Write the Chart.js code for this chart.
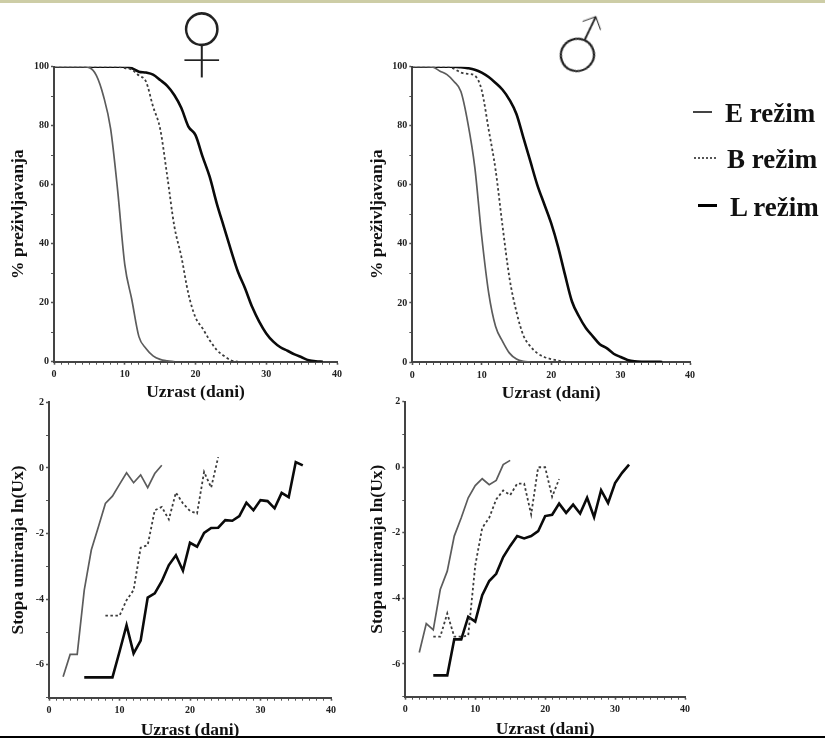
<!DOCTYPE html>
<html lang="sr">
<head>
    <meta charset="UTF-8">
    <title>Preživljavanje i stopa umiranja</title>
    <script src="https://cdn.jsdelivr.net/npm/chart.js"></script>
    <style>
        html, body { margin: 0; padding: 0; background: #fff; }
        #page { position: relative; width: 825px; height: 738px; overflow: hidden; font-family: "Liberation Serif", serif; filter: blur(0.45px); }
        #topband { position: absolute; left: 0; top: 0; width: 825px; height: 3px; background: #cdcda6; }
        #bottomline { position: absolute; left: 0; top: 736px; width: 825px; height: 2px; background: #000; }
        canvas { position: absolute; left: 0; top: 0; }
        .symbol { position: absolute; line-height: 1; color: #222; }
        .leg { position: absolute; font-weight: bold; font-size: 27px; line-height: 30px; color: #111; white-space: nowrap; }
        .sample { position: absolute; }
    </style>
</head>
<body>
<div id="page">
    <div id="topband"></div>
    <div id="bottomline"></div>
    <canvas id="survF" width="825" height="760"></canvas>
    <canvas id="survM" width="825" height="760"></canvas>
    <canvas id="mortF" width="825" height="760"></canvas>
    <canvas id="mortM" width="825" height="760"></canvas>

    <div class="symbol" style="left:153px;top:-26px;font-family:'Liberation Sans',sans-serif;font-size:130px;-webkit-text-stroke:2.6px #fff">♀</div>
    <div class="symbol" style="left:552px;top:14px;font-family:'DejaVu Sans',sans-serif;font-size:70px;-webkit-text-stroke:3.8px #fff;transform-origin:0.36em 0.58em;transform:rotate(-20deg)">♂</div>

    <div class="sample" style="left:693px;top:111px;width:19px;height:2px;background:#444"></div>
    <div class="leg" style="left:725px;top:98px">E režim</div>
    <div class="sample" style="left:694px;top:157px;width:22px;border-top:2px dotted #555"></div>
    <div class="leg" style="left:727px;top:144px">B režim</div>
    <div class="sample" style="left:698px;top:204px;width:19px;height:3px;background:#000"></div>
    <div class="leg" style="left:730px;top:192px">L režim</div>
</div>

<script>
    // survival curves, % alive per day, starting at day 0
    const survFemaleE = [100,100,100,100,100,99.7,97,90,79,58,33,21,8.5,4.5,2,0.8,0.3,0];
    const survFemaleB = [100,100,100,100,100,100,100,100,100,100,99.5,99,97,95,86.5,79,63,46,35.6,23,15,11.3,7.3,4,2,0.5,0];
    const survFemaleL = [100,100,100,100,100,100,100,100,100,100,100,99.5,98.3,98,97.3,95.5,93.5,90.4,86,79.7,76.8,69.5,62.7,53.7,45.8,37.9,30.5,24.9,18.6,13.6,9.6,6.8,4.9,3.7,2.5,1.5,0.5,0.1,0];
    const survMaleE = [100,100,100,99.8,98.5,97.3,95,91.6,81,66,42.5,23.4,12,7,3,1,0.2,0];
    const survMaleB = [100,100,100,100,100,100,99.3,98,97.6,97,92,78.7,65,46,28.4,17,9,5.3,3,1.7,1,0.5,0];
    const survMaleL = [100,100,100,100,100,100,100,99.8,99.5,99,98,96.5,94.5,92.2,88.8,84,76,68,60,53.5,47,39,29.5,20.5,15.5,11.5,8.7,6,4.7,2.8,1.7,0.7,0.2,0.1,0.1,0.1,0];

    // mortality rate ln(Ux) per day, first day in the *Start constants
    const mortFemaleE = [-6.36,-5.68,-5.68,-3.72,-2.5,-1.8,-1.08,-0.86,-0.5,-0.15,-0.45,-0.21,-0.6,-0.17,0.08];
    const mortFemaleEStart = 2;
    const mortFemaleB = [-4.5,-4.5,-4.5,-4.03,-3.72,-2.43,-2.35,-1.29,-1.19,-1.57,-0.75,-1.08,-1.31,-1.39,-0.12,-0.6,0.33];
    const mortFemaleBStart = 8;
    const mortFemaleL = [-6.38,-6.38,-6.38,-6.38,-6.38,-5.6,-4.79,-5.65,-5.26,-3.95,-3.82,-3.45,-2.96,-2.66,-3.13,-2.28,-2.4,-1.98,-1.83,-1.82,-1.59,-1.61,-1.47,-1.06,-1.29,-0.98,-1.01,-1.23,-0.76,-0.89,0.18,0.08];
    const mortFemaleLStart = 5;
    const mortMaleE = [-5.65,-4.77,-4.96,-3.73,-3.17,-2.1,-1.54,-0.93,-0.56,-0.35,-0.53,-0.4,0.08,0.21];
    const mortMaleEStart = 2;
    const mortMaleB = [-5.17,-5.17,-4.46,-5.17,-5.17,-5.13,-3,-1.85,-1.54,-0.98,-0.71,-0.85,-0.5,-0.5,-1.44,0,0,-0.9,-0.36];
    const mortMaleBStart = 4;
    const mortMaleL = [-6.35,-6.35,-6.35,-5.25,-5.25,-4.56,-4.71,-3.9,-3.47,-3.25,-2.74,-2.4,-2.1,-2.17,-2.1,-1.95,-1.49,-1.45,-1.11,-1.39,-1.14,-1.41,-0.93,-1.52,-0.7,-1.09,-0.48,-0.17,0.08];
    const mortMaleLStart = 4;

    const xTitle = 'Uzrast (dani)';
    const survTitle = '% preživljavanja';
    const mortTitle = 'Stopa umiranja ln(Ux)';
    const canvasH = 760;

    function toPoints(values, start) {
        return values.map((v, i) => ({ x: start + i, y: v }));
    }

    function series(label, values, start, smooth) {
        const styles = {
            E: { borderColor: '#5c5c5c', borderWidth: 1.7 },
            B: { borderColor: '#3c3c3c', borderWidth: 1.8, borderDash: [2.5, 2.5] },
            L: { borderColor: '#0a0a0a', borderWidth: 2.6 }
        };
        const set = { label: label, data: toPoints(values, start), pointRadius: 0, tension: 0, ...styles[label] };
        if (smooth) set.cubicInterpolationMode = 'monotone';
        return set;
    }

    function panel(id, box, datasets, yOpts) {
        const tickFont = { family: 'Liberation Serif', size: 10, weight: 'bold' };
        const titleFont = { family: 'Liberation Serif', size: 17.5, weight: 'bold' };
        new Chart(document.getElementById(id), {
            type: 'line',
            data: { datasets: datasets },
            options: {
                responsive: false,
                animation: false,
                layout: { padding: { left: 0, top: box.top, right: 825 - box.right, bottom: canvasH - box.titleBottom } },
                plugins: { legend: { display: false }, tooltip: { enabled: false } },
                scales: {
                    x: {
                        type: 'linear', min: 0, max: 40,
                        border: { color: '#444', width: 2 },
                        grid: {
                            drawOnChartArea: false, tickLength: 3,
                            tickColor: '#555',
                            tickWidth: c => c.tick.value % 10 === 0 ? 1.6 : 1
                        },
                        ticks: {
                            stepSize: 1, autoSkip: false, maxRotation: 0, padding: 4, color: '#222', font: tickFont,
                            callback: v => v % 10 === 0 ? v : ''
                        },
                        title: { display: true, text: xTitle, color: '#111', font: titleFont, padding: 0 },
                        afterFit: s => { s.height = box.titleBottom - box.bottom; }
                    },
                    y: {
                        type: 'linear', min: yOpts.min, max: yOpts.max,
                        border: { color: '#444', width: 2 },
                        grid: {
                            drawOnChartArea: false, tickLength: 3,
                            tickColor: '#555',
                            tickWidth: c => c.tick.value % yOpts.labelStep === 0 ? 1.6 : 1
                        },
                        ticks: {
                            stepSize: yOpts.step, autoSkip: false, padding: 2, color: '#222', font: tickFont,
                            callback: v => v % yOpts.labelStep === 0 ? v : ''
                        },
                        title: { display: true, text: yOpts.title, color: '#111', font: titleFont, padding: { top: box.titleX - 10.5, bottom: 0 } },
                        afterFit: s => { s.width = box.left; }
                    }
                }
            }
        });
    }

    const survAxis = { min: 0, max: 100, step: 10, labelStep: 20, title: survTitle };
    const mortAxis = { min: -7, max: 2, step: 1, labelStep: 2, title: mortTitle };

    panel('survF', { left: 54, right: 337, top: 66.7, bottom: 361.7, titleBottom: 402.5, titleX: 18 }, [
        series('E', survFemaleE, 0, true), series('B', survFemaleB, 0, true), series('L', survFemaleL, 0, true)
    ], survAxis);
    panel('survM', { left: 412.3, right: 690, top: 66.7, bottom: 362, titleBottom: 403.5, titleX: 377 }, [
        series('E', survMaleE, 0, true), series('B', survMaleB, 0, true), series('L', survMaleL, 0, true)
    ], survAxis);
    panel('mortF', { left: 49, right: 331, top: 402.3, bottom: 697.7, titleBottom: 740.5, titleX: 18 }, [
        series('E', mortFemaleE, mortFemaleEStart), series('B', mortFemaleB, mortFemaleBStart), series('L', mortFemaleL, mortFemaleLStart)
    ], mortAxis);
    panel('mortM', { left: 405.3, right: 685, top: 401.7, bottom: 696.7, titleBottom: 739.5, titleX: 377 }, [
        series('E', mortMaleE, mortMaleEStart), series('B', mortMaleB, mortMaleBStart), series('L', mortMaleL, mortMaleLStart)
    ], mortAxis);
</script>
</body>
</html>
